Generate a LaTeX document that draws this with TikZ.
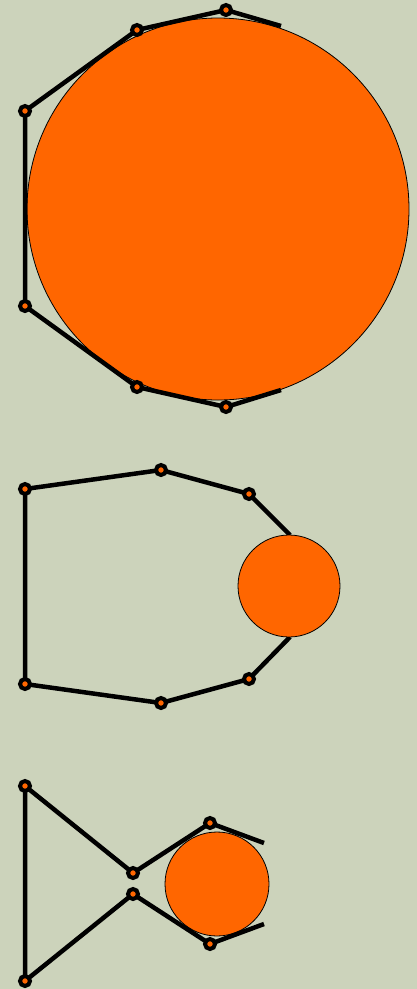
\documentclass[tikz,border=0pt]{standalone}
\usepackage{tikz}
\usetikzlibrary{calc}

\definecolor{bgsage}{RGB}{204,211,187}
\definecolor{ballorange}{RGB}{255,102,0}

\begin{document}
\begin{tikzpicture}[
    x=1pt, y=-1pt,
    ball/.style={draw=black, line width=0.8pt, fill=ballorange},
    edge/.style={line width=4.5pt, line join=round},
    vtx/.style={circle, draw=black, line width=4pt, fill=ballorange, inner sep=0pt, minimum size=10pt}
]
\fill[bgsage] (0,0) rectangle (417,989);
\useasboundingbox (0,0) rectangle (417,989);

% top: large ball
\coordinate (ta0) at (281,26);
\coordinate (ta1) at (226,10);
\coordinate (ta2) at (137,30);
\coordinate (ta3) at (25,111);
\coordinate (ta4) at (25,306);
\coordinate (ta5) at (137,387);
\coordinate (ta6) at (226,407);
\coordinate (ta7) at (281,390);
\draw[ball] (218,209) circle[radius=191];
\draw[edge] (ta0) -- (ta1) -- (ta2) -- (ta3) -- (ta4) -- (ta5) -- (ta6) -- (ta7);

% middle: ball at the tip
\coordinate (mb0) at (290,535);
\coordinate (mb1) at (249,494);
\coordinate (mb2) at (161,470);
\coordinate (mb3) at (25,489);
\coordinate (mb4) at (25,684);
\coordinate (mb5) at (161,703);
\coordinate (mb6) at (249,679);
\coordinate (mb7) at (290,637);
\draw[edge] (mb0) -- (mb1) -- (mb2) -- (mb3) -- (mb4) -- (mb5) -- (mb6) -- (mb7);
\draw[ball] (289,586) circle[radius=51];

% bottom: crossed arms
\coordinate (bc0) at (264,843);
\coordinate (bc1) at (210,823);
\coordinate (bc2) at (133,873);
\coordinate (bc3) at (25,786);
\coordinate (bc4) at (25,981);
\coordinate (bc5) at (133,894);
\coordinate (bc6) at (210,944);
\coordinate (bc7) at (264,924);
\draw[ball] (217,884) circle[radius=52];
\draw[edge] (bc0) -- (bc1) -- (bc2) -- (bc3) -- (bc4) -- (bc5) -- (bc6) -- (bc7);

\foreach \p in {ta1,ta2,ta3,ta4,ta5,ta6,mb1,mb2,mb3,mb4,mb5,mb6,bc1,bc2,bc3,bc4,bc5,bc6}
    \node[vtx] at (\p) {};
\end{tikzpicture}
\end{document}
